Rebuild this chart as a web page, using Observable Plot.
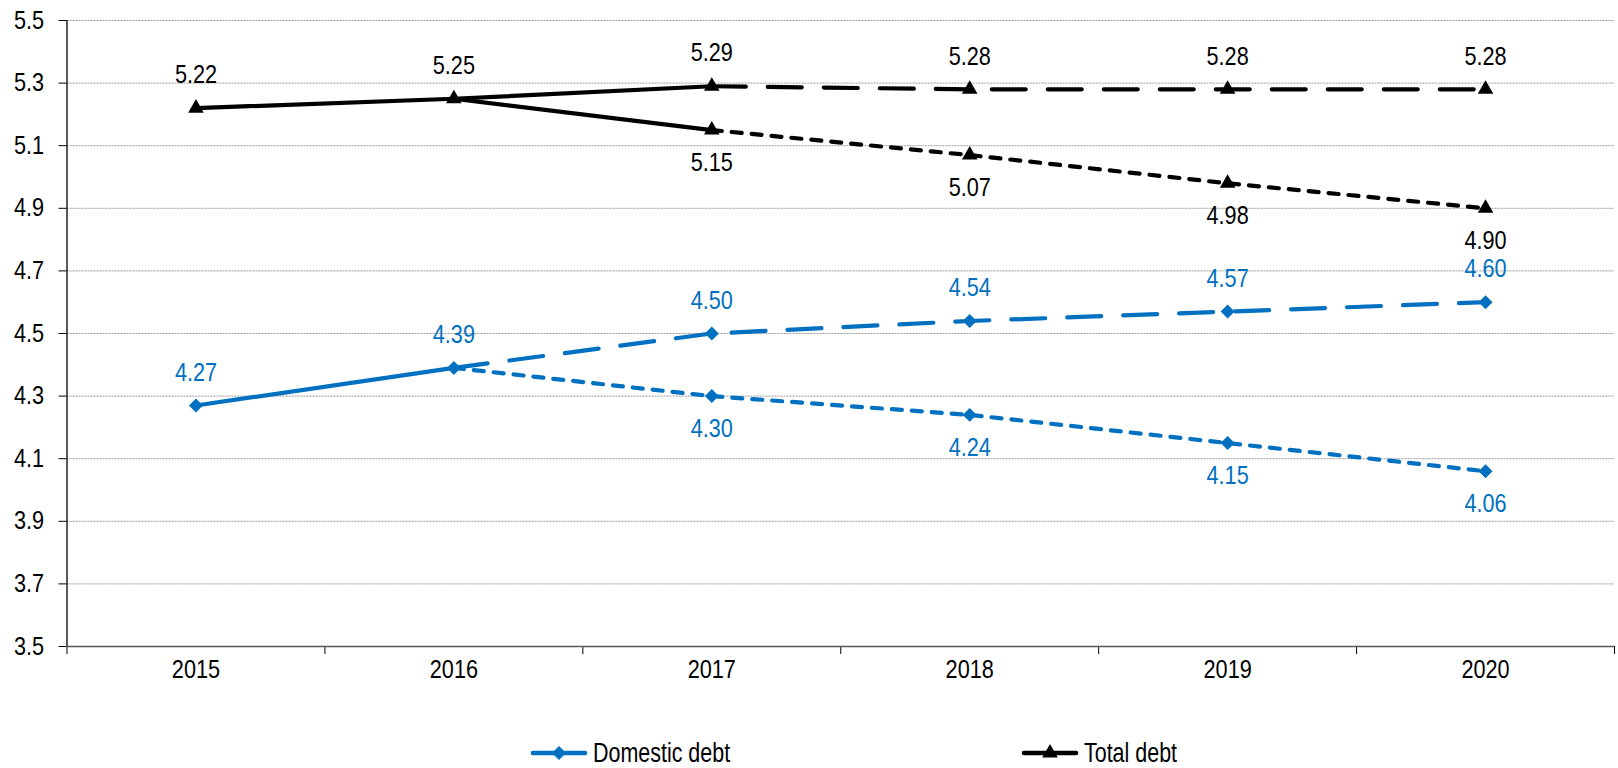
<!DOCTYPE html>
<html><head><meta charset="utf-8">
<script src="https://cdn.jsdelivr.net/npm/d3@7"></script>
<script src="https://cdn.jsdelivr.net/npm/@observablehq/plot@0.6"></script>
<style>
body{margin:0;background:#fff;overflow:hidden;width:1618px;height:768px;position:relative;}
#chart{position:absolute;left:0;top:0;}
.lg{position:absolute;top:735px;height:36px;display:flex;align-items:center;font-family:'Liberation Sans Narrow','Arial Narrow','Liberation Sans',Arial,sans-serif;font-size:27.5px;line-height:1;color:#000;white-space:nowrap;}
.lg span{display:inline-block;transform:scaleX(0.78);transform-origin:0 50%;margin-left:5px;}
</style></head>
<body>
<div id="chart"></div>
<div class="lg" style="left:530px"><svg id="lg1" width="58" height="36"></svg><span>Domestic debt</span></div>
<div class="lg" style="left:1021px"><svg id="lg2" width="58" height="36"></svg><span>Total debt</span></div>
<script>
const years = [2015, 2016, 2017, 2018, 2019, 2020];
const xDomain = [2014.5, 2020.5];
const yTicks = [3.5, 3.7, 3.9, 4.1, 4.3, 4.5, 4.7, 4.9, 5.1, 5.3, 5.5];

const domesticActual = [4.27, 4.39];                 // 2015-2016
const domesticHigh = [4.39, 4.50, 4.54, 4.57, 4.60]; // 2016-2020
const domesticLow = [4.39, 4.30, 4.24, 4.15, 4.06];  // 2016-2020
const totalActual = [5.22, 5.25];                    // 2015-2016
const totalHigh = [5.29, 5.28, 5.28, 5.28];          // 2017-2020
const totalLow = [5.15, 5.07, 4.98, 4.90];           // 2017-2020

const blue = "#0070C0";
const FONT = "'Liberation Sans Narrow','Arial Narrow','Liberation Sans',Arial,sans-serif";
const FS = 25.5;

const pts = (ys, vals) => vals.map((v, i) => ({year: ys[i], v}));
const dA = pts(years.slice(0, 2), domesticActual);
const dH = pts(years.slice(1), domesticHigh);
const dL = pts(years.slice(1), domesticLow);
const tA = pts(years.slice(0, 2), totalActual);
const tH = pts(years.slice(2), totalHigh);
const tL = pts(years.slice(2), totalLow);
const tSolidHigh = [tA[1], tH[0]];
const tSolidLow = [tA[1], tL[0]];

const boundaries = years.map(y => y - 0.5).concat([years[years.length - 1] + 0.5]);

const longDash = "34,22";
const shortDash = "10,10";
const lw = 4.2;

const plot = Plot.plot({
  width: 1618,
  height: 700,
  marginLeft: 66.5,
  marginRight: 4,
  marginTop: 20,
  marginBottom: 54,
  style: {fontFamily: FONT, fontSize: FS + "px", color: "#000", background: "#fff"},
  x: {type: "linear", domain: xDomain},
  y: {domain: [yTicks[0], yTicks[yTicks.length - 1]]},
  marks: [
    Plot.gridY(yTicks.slice(1), {stroke: "#9a9a9a", strokeOpacity: 1, strokeWidth: 1, strokeDasharray: "2,1"}),
    Plot.axisY(yTicks, {tickSize: 8, tickPadding: 15, tickFormat: d => d.toFixed(1), fontSize: FS, stroke: "#000", label: null}),
    Plot.axisX(years, {tickSize: 0, tickPadding: 13, tickFormat: d => String(d), fontSize: FS, label: null}),
    Plot.axisX(boundaries, {tickSize: 8, tickFormat: () => "", stroke: "#000", label: null}),
    Plot.ruleX(xDomain.slice(0, 1), {stroke: "#000", strokeWidth: 1.3}),
    Plot.ruleY(yTicks.slice(0, 1), {stroke: "#595959", strokeWidth: 1.3}),
    // dashed scenario lines
    Plot.line(dH, {x: "year", y: "v", stroke: blue, strokeWidth: lw, strokeDasharray: longDash, strokeLinecap: "round"}),
    Plot.line(dL, {x: "year", y: "v", stroke: blue, strokeWidth: lw, strokeDasharray: shortDash, strokeLinecap: "round"}),
    Plot.line(tH, {x: "year", y: "v", stroke: "#000", strokeWidth: lw, strokeDasharray: longDash, strokeLinecap: "round"}),
    Plot.line(tL, {x: "year", y: "v", stroke: "#000", strokeWidth: lw, strokeDasharray: shortDash, strokeLinecap: "round"}),
    // solid lines
    Plot.line(dA, {x: "year", y: "v", stroke: blue, strokeWidth: lw}),
    Plot.line(tA, {x: "year", y: "v", stroke: "#000", strokeWidth: lw}),
    Plot.line(tSolidHigh, {x: "year", y: "v", stroke: "#000", strokeWidth: lw}),
    Plot.line(tSolidLow, {x: "year", y: "v", stroke: "#000", strokeWidth: lw}),
    // markers
    Plot.dot([...dA, ...dH.slice(1), ...dL.slice(1)], {x: "year", y: "v", symbol: "diamond2", r: 6.3, fill: blue, stroke: "none"}),
    Plot.dot([...tA, ...tH, ...tL], {x: "year", y: "v", symbol: "triangle", r: 5.8, fill: "#000", stroke: "none"}),
    // labels
    Plot.text([...dA, ...dH.slice(1)], {x: "year", y: "v", text: d => d.v.toFixed(2), dy: -33, fill: blue, fontSize: FS}),
    Plot.text(dL.slice(1), {x: "year", y: "v", text: d => d.v.toFixed(2), dy: 33, fill: blue, fontSize: FS}),
    Plot.text([...tA, ...tH], {x: "year", y: "v", text: d => d.v.toFixed(2), dy: -33, fill: "#000", fontSize: FS}),
    Plot.text(tL, {x: "year", y: "v", text: d => d.v.toFixed(2), dy: 33, fill: "#000", fontSize: FS})
  ]
});
document.getElementById("chart").appendChild(plot);

// condense all chart text horizontally (narrow face look)
d3.select(plot).selectAll("text").each(function() {
  const t = this.getAttribute("transform") || "";
  this.setAttribute("transform", (t + " scale(0.85,1)").trim());
});

// legend swatches
function swatch(id, color, sym, w, r) {
  const s = d3.select("#" + id);
  s.append("line").attr("x1", 3).attr("x2", w - 3).attr("y1", 18).attr("y2", 18)
    .attr("stroke", color).attr("stroke-width", 4.6).attr("stroke-linecap", "round");
  s.append("path").attr("transform", `translate(${w / 2},18)`)
    .attr("d", d3.symbol(sym, Math.PI * r * r)())
    .attr("fill", color);
}
swatch("lg1", blue, d3.symbolDiamond2, 58, 6.3);
swatch("lg2", "#000", d3.symbolTriangle, 58, 5.8);
</script>
</body></html>
